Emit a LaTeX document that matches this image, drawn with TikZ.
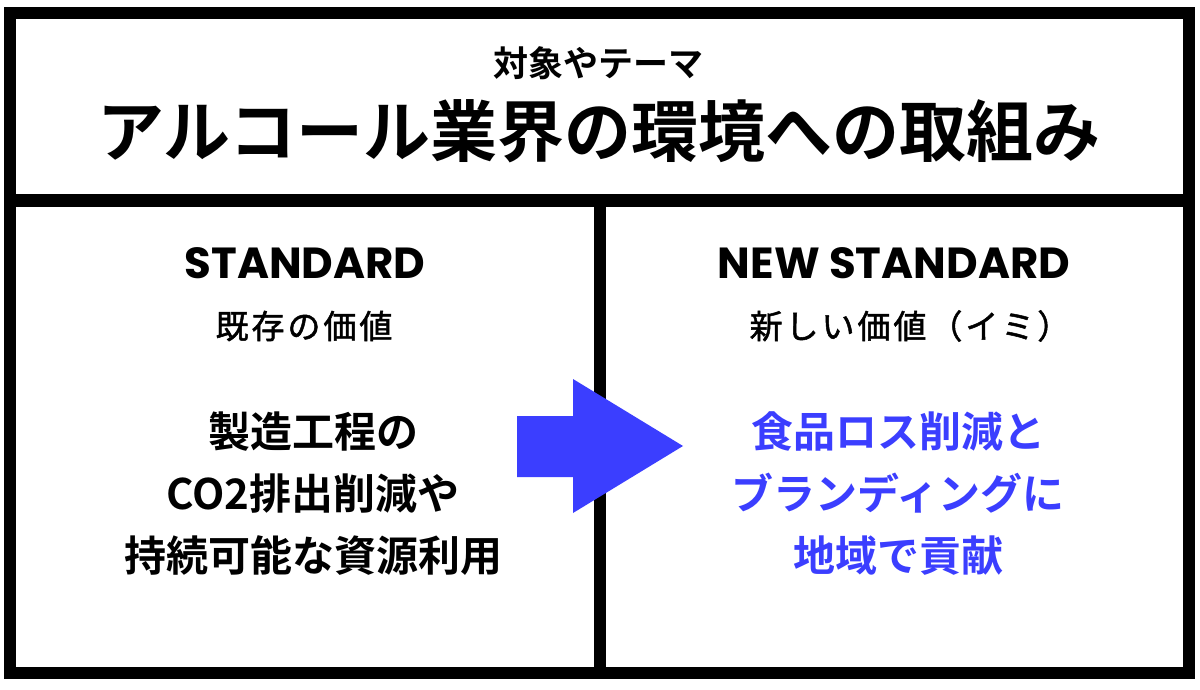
\documentclass[tikz,border=0pt]{standalone}
\usepackage{fontspec}
\newfontfamily\jpb{Noto Sans CJK JP Bold}
\newfontfamily\jpm[LetterSpace=9,FakeBold=1.5]{Noto Sans CJK JP}
\newfontfamily\pop{Poppins}
\definecolor{navyblue}{RGB}{59,62,255}
\begin{document}
\begin{tikzpicture}[x=1pt,y=-1pt,
  frame/.style={line width=12pt,black},
  lbl/.style={inner sep=0pt,anchor=center,align=center},
  headen/.style={lbl,font=\pop\bfseries\fontsize{43.5}{50}\selectfont},
  subjp/.style={lbl,font=\jpm\fontsize{33}{36}\selectfont},
  body/.style={lbl,font=\jpb\fontsize{42}{62}\selectfont}]
\useasboundingbox (0,0) rectangle (1200,690);
\fill[white] (0,0) rectangle (1200,690);
% frame
\draw[frame] (10,13) rectangle (1189,672.5);
\draw[frame] (4,200.5) -- (1195,200.5);
\draw[frame] (599.5,200) -- (599.5,672);
% texts
\node[lbl,font=\jpb\fontsize{35}{38}\selectfont] (theme) at (598,63) {対象やテーマ};
\node[lbl,font=\jpb\fontsize{67}{72}\selectfont] (title) at (599,131) {アルコール業界の環境への取組み};
\node[headen] (std) at (305,263) {STANDARD};
\node[subjp] (stdjp) at (304,326) {既存の価値};
\node[headen] (nstd) at (894,263) {NEW STANDARD};
\node[subjp] (nstdjp) at (910,326) {新しい価値（イミ）};
\node[body] (left) at (313,494) {製造工程の\\CO2排出削減や\\持続可能な資源利用};
\node[body,text=navyblue] (right) at (898,494) {食品ロス削減と\\ブランディングに\\地域で貢献};
% arrow
\fill[navyblue] (517,416) -- (573,416) -- (573,379) -- (683,446) -- (573,513) -- (573,477) -- (517,477) -- cycle;
\end{tikzpicture}
\end{document}
